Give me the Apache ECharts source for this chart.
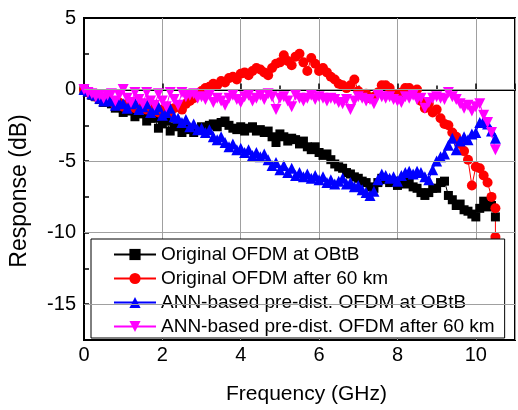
<!DOCTYPE html>
<html><head><meta charset="utf-8">
<script src="https://cdn.jsdelivr.net/npm/echarts@6/dist/echarts.min.js"></script>
<style>html,body{margin:0;padding:0;background:#fff}#c{width:518px;height:410px}</style>
</head><body><div id="c"></div>
<script>
const freq = [0,0.1,0.2,0.3,0.4,0.5,0.6,0.7,0.8,0.9,1.0,1.1,1.2,1.3,1.4,1.5,1.6,1.7,1.8,1.9,
  2.0,2.1,2.2,2.3,2.4,2.5,2.6,2.7,2.8,2.9,3.0,3.1,3.2,3.3,3.4,3.5,3.6,3.7,3.8,3.9,
  4.0,4.1,4.2,4.3,4.4,4.5,4.6,4.7,4.8,4.9,5.0,5.1,5.2,5.3,5.4,5.5,5.6,5.7,5.8,5.9,
  6.0,6.1,6.2,6.3,6.4,6.5,6.6,6.7,6.8,6.9,7.0,7.1,7.2,7.3,7.4,7.5,7.6,7.7,7.8,7.9,
  8.0,8.1,8.2,8.3,8.4,8.5,8.6,8.7,8.8,8.9,9.0,9.1,9.2,9.3,9.4,9.5,9.6,9.7,9.8,9.9,
  10.0,10.1,10.2,10.3,10.4,10.5];

const origOBtB = [0,-0.2,-0.4,-0.5,-0.7,-0.9,-0.8,-1.0,-1.3,-1.2,
  -1.6,-1.5,-1.4,-1.9,-1.7,-1.6,-2.2,-2.0,-2.0,-2.7,
  -2.4,-2.2,-2.9,-2.6,-2.5,-3.0,-2.8,-2.7,-3.0,-2.8,
  -2.6,-2.8,-2.5,-2.4,-2.6,-2.3,-2.2,-2.5,-2.7,-2.8,
  -2.6,-2.9,-2.7,-2.6,-2.9,-2.8,-3.0,-2.9,-3.3,-3.7,
  -3.1,-3.3,-3.6,-3.4,-3.5,-3.8,-3.6,-4.0,-4.2,-4.0,
  -4.4,-4.6,-4.5,-4.9,-5.2,-5.4,-5.5,-5.8,-5.9,-6.1,
  -6.2,-6.4,-6.5,-6.8,-6.9,-6.5,-6.2,-6.3,-6.5,-6.4,
  -6.7,-6.5,-6.6,-6.4,-6.8,-6.9,-7.2,-7.4,-7.2,-6.9,
  -6.9,-6.5,-6.4,-7.4,-7.7,-8.1,-8.0,-8.4,-8.5,-8.7,
  -8.9,-8.3,-7.8,-8.2,-8.1,-8.9];

const orig60km = [0,-0.2,-0.3,-0.5,-0.6,-0.8,-0.6,-0.8,-1.1,-0.9,
  -1.2,-1.0,-0.9,-1.3,-1.1,-1.0,-1.4,-1.2,-1.1,-1.6,
  -1.4,-1.2,-1.6,-1.3,-1.2,-1.4,-1.0,-0.8,-0.6,-0.3,
  -0.1,0.1,0.2,0.4,0.3,0.6,0.5,0.8,0.9,0.7,
  1.1,1.2,1.0,1.3,1.5,1.4,1.2,1.0,1.5,1.8,
  1.9,2.4,2.0,1.7,2.3,2.5,1.9,1.3,2.2,1.8,
  1.3,1.5,1.2,0.9,0.7,0.4,0.3,0.1,0.3,0.7,
  -0.1,-0.4,-0.3,-0.6,-0.5,-0.2,0.3,0.3,0.1,-0.3,
  -0.4,-0.2,0.1,0.1,-0.1,0.0,-0.8,-1.3,-1.0,-1.6,
  -1.4,-2.0,-2.4,-2.5,-3.0,-3.3,-3.8,-4.3,-4.9,-6.7,
  -5.4,-5.5,-6.0,-6.5,-7.5,-8.3];
const orig60kmTailFreq = [10.5];
const orig60kmTailVal = [-10.3];

const annOBtB = [0,-0.1,-0.3,-0.4,-0.6,-0.8,-0.6,-0.8,-1.1,-0.9,
  -1.0,-1.3,-1.0,-0.9,-1.4,-1.2,-1.0,-1.6,-1.4,-1.2,
  -1.8,-1.6,-1.3,-1.9,-2.0,-2.3,-2.1,-2.6,-2.4,-2.8,
  -2.7,-3.0,-2.8,-3.3,-3.5,-3.3,-3.7,-4.0,-3.8,-4.2,
  -4.1,-4.4,-4.2,-4.6,-4.4,-4.7,-4.5,-4.9,-5.3,-5.1,
  -5.6,-5.3,-5.8,-5.5,-6.0,-5.8,-6.1,-5.9,-6.2,-6.0,
  -6.3,-6.1,-6.5,-6.3,-6.6,-6.4,-6.2,-6.6,-6.5,-6.8,
  -6.7,-7.0,-7.2,-7.4,-7.1,-6.3,-5.9,-6.0,-6.2,-6.1,
  -6.4,-6.0,-5.8,-5.7,-5.9,-5.7,-5.8,-6.1,-6.3,-5.6,
  -5.0,-4.7,-4.5,-3.9,-3.4,-4.2,-3.6,-3.3,-3.5,-3.1,
  -3.0,-2.3,-2.2,-2.4,-2.9,-3.4];

const ann60km = [0,-0.2,-0.3,-0.5,-0.4,-0.6,-0.4,-0.3,-0.8,-0.4,
  0.0,-0.6,-0.9,-0.2,-0.7,-1.0,-0.2,-0.8,-1.1,-0.3,
  -0.8,-1.2,-0.2,-0.7,-1.1,-0.2,-0.5,-0.4,-0.3,-0.6,
  -0.5,-0.7,-0.4,-0.9,-0.6,-0.8,-1.1,-0.6,-0.4,-0.7,
  -0.9,-0.5,-0.4,-0.8,-0.6,-0.4,-0.7,-0.3,-0.5,-1.4,
  -0.6,-0.5,-0.8,-1.2,-0.4,-0.6,-0.8,-0.6,-0.4,-0.7,
  -0.5,-0.6,-0.8,-0.6,-0.7,-0.9,-1.0,-0.7,-1.4,-0.8,
  -0.5,-0.6,-0.8,-0.7,-1.0,-0.4,-0.5,-0.6,-0.5,-0.7,
  -0.8,-0.9,-0.5,-0.6,-0.4,-0.7,-0.6,-1.3,-0.9,-0.6,
  -0.5,-0.6,-0.7,-0.2,-0.5,-0.7,-1.0,-1.3,-1.1,-1.5,
  -1.2,-1.0,-1.8,-2.3,-3.0,-4.2];

const seriesNames = ['Original OFDM at OBtB','Original OFDM after 60 km',
  'ANN-based pre-dist. OFDM at OBtB','ANN-based pre-dist. OFDM after 60 km'];
const yGridValues = [0,-5,-10,-15];

function pairs(xs, ys){ return xs.map((x,i)=>[x, ys[i]]); }
const FONT = 'Arial, "Liberation Sans", sans-serif';

const chart = echarts.init(document.getElementById('c'), null, {renderer:'canvas'});
function mk(name, data, color, symbol, size, rotate){
  return {name, type:'line', data, symbol, symbolSize:size, symbolRotate:rotate||0,
    showSymbol:true, animation:false, z:3,
    lineStyle:{color, width:1}, itemStyle:{color, borderWidth:0}};
}
chart.setOption({
  animation:false,
  backgroundColor:'#fff',
  grid:{left:80, top:18, right:-1, bottom:68, show:true, borderColor:'#000', borderWidth:2, backgroundColor:'transparent'},
  xAxis:{type:'value', min:0, max:11, interval:2,
    name:'Frequency (GHz)', nameLocation:'middle', nameGap:44,
    nameTextStyle:{fontFamily:FONT, fontSize:21, color:'#000', padding:[0,0,0,14]},
    axisLine:{show:true, lineStyle:{color:'#000', width:2}},
    axisTick:{show:true, inside:true, length:6, lineStyle:{color:'#000', width:1.5}},
    minorTick:{show:true, splitNumber:2, length:4, lineStyle:{color:'#000', width:1.5}},
    axisLabel:{fontFamily:FONT, fontSize:20, color:'#000', margin:5,
      formatter: v => (v % 2 === 0 ? String(v) : '')},
    splitLine:{show:true, lineStyle:{color:'#a0a0a0', width:1}}},
  yAxis:{type:'value', min:-17.5, max:5, interval:2.5,
    name:'Response (dB)', nameLocation:'middle', nameGap:53,
    nameTextStyle:{fontFamily:FONT, fontSize:23, color:'#000', padding:[0,24,0,0]},
    axisLine:{show:true, lineStyle:{color:'#000', width:2}},
    axisTick:{show:true, inside:true, length:5, lineStyle:{color:'#000', width:1.5}},
    axisLabel:{fontFamily:FONT, fontSize:20, color:'#000', margin:8,
      formatter: v => (v % 5 === 0 ? String(v) : '')},
    splitLine:{show:false}},
  legend:{data:seriesNames, orient:'vertical', left:91, top:239,
    padding:[6,10,2,22], itemGap:5, itemWidth:42, itemHeight:14,
    backgroundColor:'#fff', borderColor:'#000', borderWidth:1, borderRadius:0,
    textStyle:{fontFamily:FONT, fontSize:19, color:'#000'}},
  series:[
    {name:'gridlines', type:'line', data:[], z:1, silent:true,
      markLine:{silent:true, symbol:['none','none'], label:{show:false},
        lineStyle:{color:'#a0a0a0', width:1, type:'solid'}, animation:false,
        data: yGridValues.map(v=>({yAxis:v}))}},
    mk(seriesNames[0], pairs(freq, origOBtB), '#000000', 'rect', 9),
    mk(seriesNames[1], pairs(freq, orig60km).concat(pairs(orig60kmTailFreq, orig60kmTailVal)), '#ff0000', 'circle', 10),
    mk(seriesNames[2], pairs(freq, annOBtB), '#0000ff', 'triangle', 11),
    mk(seriesNames[3], pairs(freq, ann60km), '#ff00ff', 'triangle', 11, 180)
  ]
});
</script></body></html>
